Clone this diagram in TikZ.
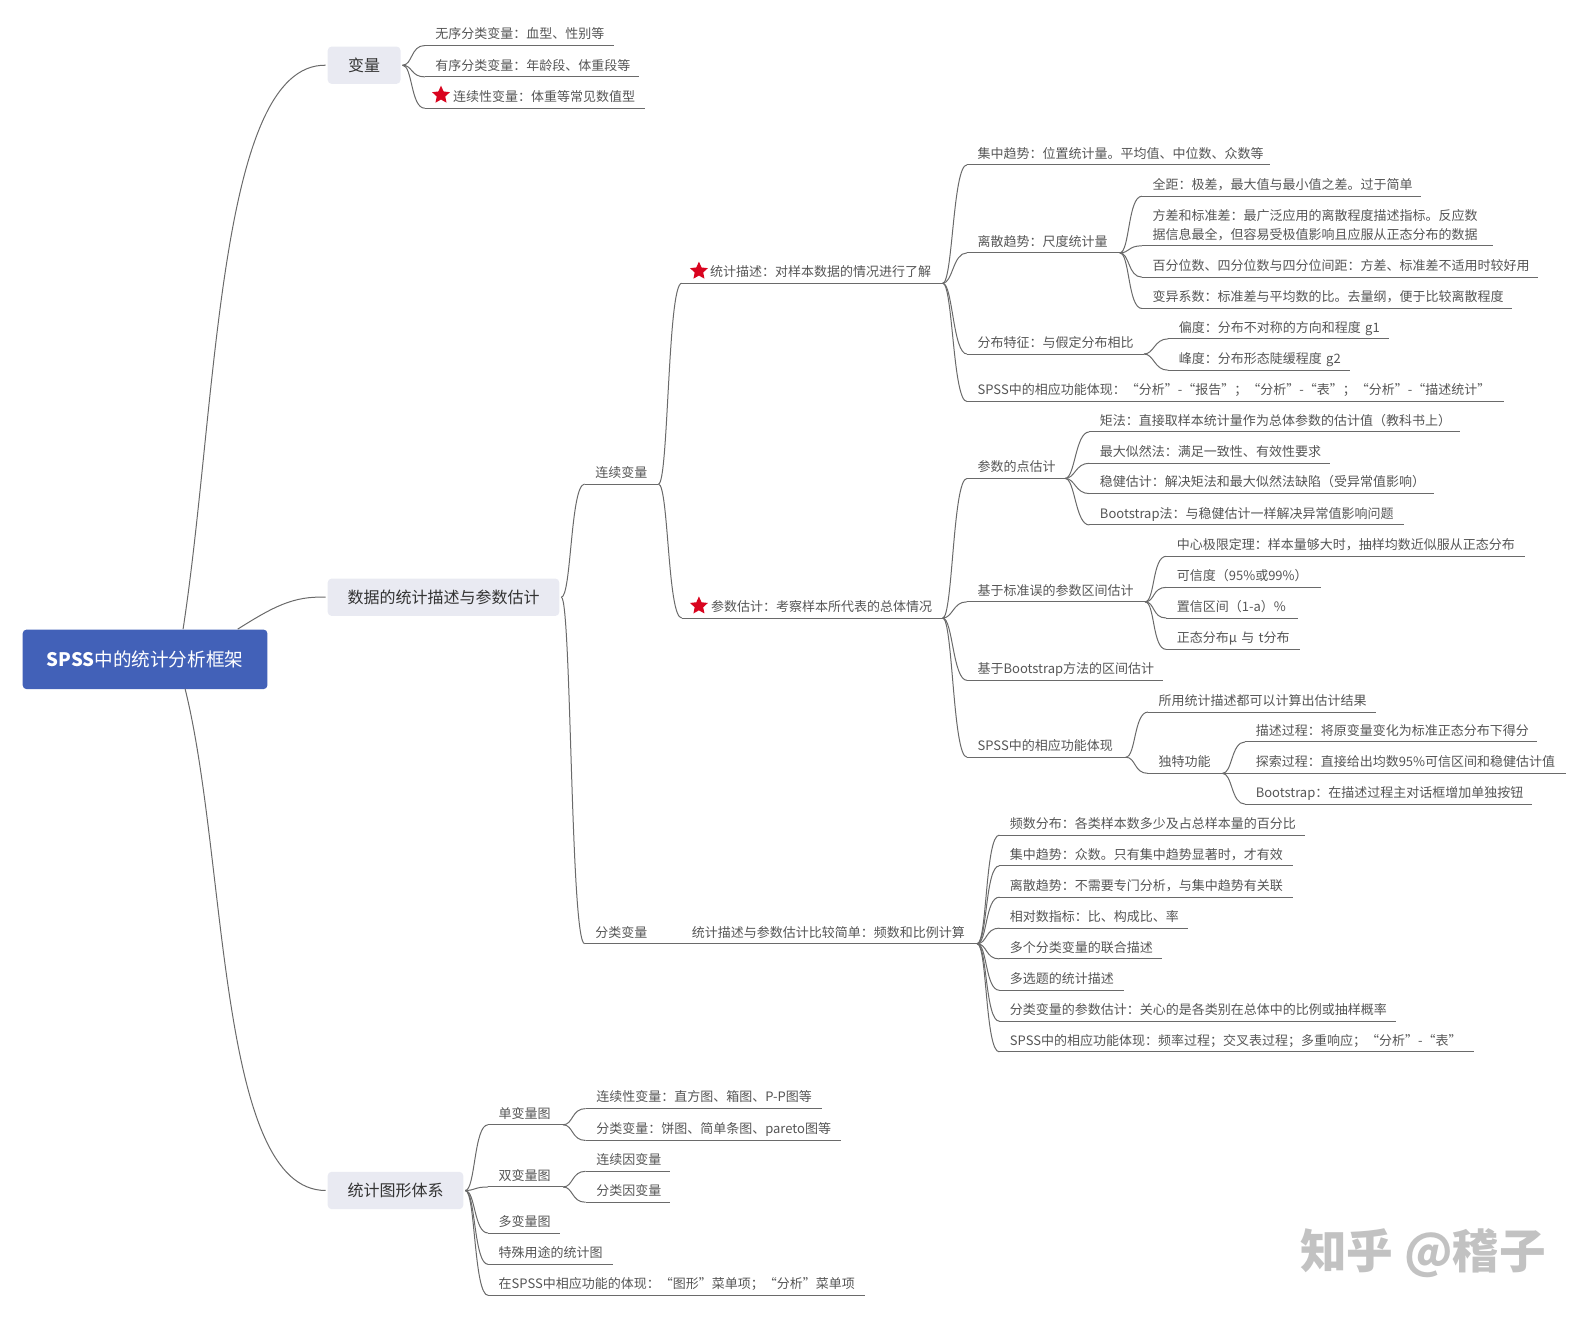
\documentclass[tikz,border=0pt]{standalone}
\usepackage{fontspec}
\setmainfont{Noto Sans CJK SC}
\usetikzlibrary{shapes.geometric}
\definecolor{linec}{HTML}{6A6A6A}
\definecolor{textc}{HTML}{555555}
\definecolor{boxc}{HTML}{E9EAF2}
\definecolor{rootc}{HTML}{4261B8}
\definecolor{starc}{HTML}{D9041F}
\newcommand\leaffont{\fontsize{6.5}{9.1}\selectfont}
\tikzset{
  conn/.style={draw=linec,line width=0.5pt},
  leafnode/.style={inner sep=0pt,outer sep=0pt,anchor=south west,align=left,text=textc,font=\leaffont,text height=7pt,text depth=3.35pt},
  boxnode/.style={rounded corners=2pt,fill=boxc,inner sep=0pt,outer sep=1pt,anchor=north west,text=black!80,font=\fontsize{8}{10}\selectfont},
  rootnode/.style={rounded corners=2pt,fill=rootc,inner sep=0pt,anchor=north west,text=white,font=\fontsize{9.3}{12}\selectfont},
  starnode/.style={star,star points=5,star point ratio=2.1,fill=starc,inner sep=0pt,minimum size=9.4pt,outer sep=0pt}
}
% \leaf[indent]{name}{x1}{x2}{y}{text}
\newcommand\leaf[6][10.5]{%
  \pgfmathsetmacro\lw{(#4-#3)*0.5057}%
  \pgfmathsetmacro\li{#1*0.5057}%
  \node[leafnode,text width=\lw pt] (#2) at (#3,#5) {\mbox{\hspace*{\li pt}#6}};
  \draw[conn] (#2.south west) -- (#2.south east);
}
\newcommand\cn[2]{\draw[conn] (#1) .. controls +(10,0) and +(-14,0) .. (#2.south west);}
\begin{document}
\begin{tikzpicture}[x=0.5057pt,y=-0.5057pt]
\useasboundingbox (0,0) rectangle (1568,1302);
% main boxes
\node[rootnode,minimum width=122.4pt,minimum height=29.8pt] (root) at (22,622) {\textbf{SPSS}中的统计分析框架};
\node[boxnode,minimum width=36.4pt,minimum height=18.7pt] (var) at (322,44) {变量};
\node[boxnode,minimum width=115.8pt,minimum height=18.7pt] (desc) at (322,570) {数据的统计描述与参数估计};
\node[boxnode,minimum width=67.8pt,minimum height=18.7pt] (graph) at (322,1156.5) {统计图形体系};
\coordinate (rA) at (181,622);
\coordinate (rB) at (235,622);
\coordinate (rC) at (183,681);
\draw[conn] (rA) .. controls (215,400) and (215,63) .. (var.west);
\draw[conn] (rB) .. controls (270,600) and (290,589) .. (desc.west);
\draw[conn] (rC) .. controls (225,850) and (215,1177) .. (graph.west);
% variables
\leaf{v1}{420}{607}{45}{无序分类变量：血型、性别等}
\leaf{v2}{420}{632}{76}{有序分类变量：年龄段、体重段等}
\leaf[28]{v3}{420}{638}{107}{连续性变量：体重等常见数值型}
\node[starnode] (s1) at (436,94) {};
\cn{var.east}{v1}\cn{var.east}{v2}\cn{var.east}{v3}
% continuous
\leaf{cont}{578}{651}{478.6}{连续变量}
\leaf{cat}{578}{650}{933}{分类变量}
\cn{desc.east}{cont}\cn{desc.east}{cat}
\leaf[28]{ds}{674}{932}{280}{统计描述：对样本数据的情况进行了解}
\node[starnode] (s2) at (691,268) {};
\leaf[29]{pe}{674}{932}{611}{参数估计：考察样本所代表的总体情况}
\node[starnode] (s3) at (691,599) {};
\cn{cont.south east}{ds}\cn{cont.south east}{pe}
% descriptive
\leaf{d1}{956}{1256}{163}{集中趋势：位置统计量。平均值、中位数、众数等}
\leaf{d2}{956}{1107}{250}{离散趋势：尺度统计量}
\leaf{d3}{956}{1131}{350}{分布特征：与假定分布相比}
\leaf{d4}{956}{1487}{397}{SPSS中的相应功能体现：“分析”-“报告”；“分析”-“表”；“分析”-“描述统计”}
\cn{ds.south east}{d1}\cn{ds.south east}{d2}\cn{ds.south east}{d3}\cn{ds.south east}{d4}
\leaf{d21}{1129}{1405}{194}{全距：极差，最大值与最小值之差。过于简单}
\leaf{d22}{1129}{1476}{243}{\begin{tabular}[b]{@{}l@{}}方差和标准差：最广泛应用的离散程度描述指标。反应数\\据信息最全，但容易受极值影响且应服从正态分布的数据\end{tabular}}
\leaf{d23}{1129}{1521}{274}{百分位数、四分位数与四分位间距：方差、标准差不适用时较好用}
\leaf{d24}{1129}{1495}{305}{变异系数：标准差与平均数的比。去量纲，便于比较离散程度}
\cn{d2.south east}{d21}\cn{d2.south east}{d22}\cn{d2.south east}{d23}\cn{d2.south east}{d24}
\leaf{d31}{1155}{1373}{335}{偏度：分布不对称的方向和程度 g1}
\leaf{d32}{1155}{1335}{366}{峰度：分布形态陡缓程度 g2}
\cn{d3.south east}{d31}\cn{d3.south east}{d32}
% estimation
\leaf{e1}{956}{1053}{473}{参数的点估计}
\leaf{e2}{956}{1132}{595}{基于标准误的参数区间估计}
\leaf{e3}{956}{1150}{672.6}{基于Bootstrap方法的区间估计}
\leaf{e4}{956}{1113}{748.6}{SPSS中的相应功能体现}
\cn{pe.south east}{e1}\cn{pe.south east}{e2}\cn{pe.south east}{e3}\cn{pe.south east}{e4}
\leaf{e11}{1077}{1443}{427}{矩法：直接取样本统计量作为总体参数的估计值（教科书上）}
\leaf{e12}{1077}{1315}{458}{最大似然法：满足一致性、有效性要求}
\leaf{e13}{1077}{1418}{488}{稳健估计：解决矩法和最大似然法缺陷（受异常值影响）}
\leaf{e14}{1077}{1388}{519}{Bootstrap法：与稳健估计一样解决异常值影响问题}
\cn{e1.south east}{e11}\cn{e1.south east}{e12}\cn{e1.south east}{e13}\cn{e1.south east}{e14}
\leaf{e21}{1153}{1508}{550}{中心极限定理：样本量够大时，抽样均数近似服从正态分布}
\leaf{e22}{1153}{1306}{580.7}{可信度（95\%或99\%）}
\leaf{e23}{1153}{1283.5}{611}{置信区间（1-a）\%}
\leaf{e24}{1153}{1285}{642}{正态分布μ 与 t分布}
\cn{e2.south east}{e21}\cn{e2.south east}{e22}\cn{e2.south east}{e23}\cn{e2.south east}{e24}
\leaf{e41}{1135}{1360}{704}{所用统计描述都可以计算出估计结果}
\leaf{e42}{1135}{1208.6}{764.6}{独特功能}
\cn{e4.south east}{e41}\cn{e4.south east}{e42}
\leaf{e421}{1231}{1520}{733.5}{描述过程：将原变量变化为标准正态分布下得分}
\leaf{e422}{1231}{1548}{764.6}{探索过程：直接给出均数95\%可信区间和稳健估计值}
\leaf{e423}{1231}{1515}{795}{Bootstrap：在描述过程主对话框增加单独按钮}
\cn{e42.south east}{e421}\cn{e42.south east}{e422}\cn{e42.south east}{e423}
% categorical
\leaf[34]{cs}{650}{966}{933}{统计描述与参数估计比较简单：频数和比例计算}
\draw[conn] (cat.south east) -- (cs.south west);
\leaf{c1}{988}{1290}{825.6}{频数分布：各类样本数多少及占总样本量的百分比}
\leaf{c2}{988}{1278}{856}{集中趋势：众数。只有集中趋势显著时，才有效}
\leaf{c3}{988}{1278}{887}{离散趋势：不需要专门分析，与集中趋势有关联}
\leaf{c4}{988}{1175}{917.6}{相对数指标：比、构成比、率}
\leaf{c5}{988}{1149}{948}{多个分类变量的联合描述}
\leaf{c6}{988}{1111}{979}{多选题的统计描述}
\leaf{c7}{988}{1380.6}{1009.6}{分类变量的参数估计：关心的是各类别在总体中的比例或抽样概率}
\leaf{c8}{988}{1457}{1040}{SPSS中的相应功能体现：频率过程；交叉表过程；多重响应；“分析”-“表”}
\cn{cs.south east}{c1}\cn{cs.south east}{c2}\cn{cs.south east}{c3}\cn{cs.south east}{c4}
\cn{cs.south east}{c5}\cn{cs.south east}{c6}\cn{cs.south east}{c7}\cn{cs.south east}{c8}
% graphs
\leaf{g1}{482.5}{556.7}{1112}{单变量图}
\leaf{g2}{482.5}{556.7}{1173.5}{双变量图}
\leaf{g3}{482.5}{553.8}{1219}{多变量图}
\leaf{g4}{482.5}{606}{1250}{特殊用途的统计图}
\leaf{g5}{482.5}{855}{1280.6}{在SPSS中相应功能的体现：“图形”菜单项；“分析”菜单项}
\cn{graph.east}{g1}\cn{graph.east}{g2}\cn{graph.east}{g3}\cn{graph.east}{g4}\cn{graph.east}{g5}
\leaf{g11}{579}{813}{1096}{连续性变量：直方图、箱图、P-P图等}
\leaf{g12}{579}{831}{1127.5}{分类变量：饼图、简单条图、pareto图等}
\cn{g1.south east}{g11}\cn{g1.south east}{g12}
\leaf{g21}{579}{662.6}{1158}{连续因变量}
\leaf{g22}{579}{662.6}{1188.6}{分类因变量}
\cn{g2.south east}{g21}\cn{g2.south east}{g22}
% watermark
\node[inner sep=0pt,text=black!24,font=\fontsize{23.3}{28}\selectfont\bfseries] (wm) at (1407,1239) {知乎 @稽子};
\end{tikzpicture}
\end{document}
